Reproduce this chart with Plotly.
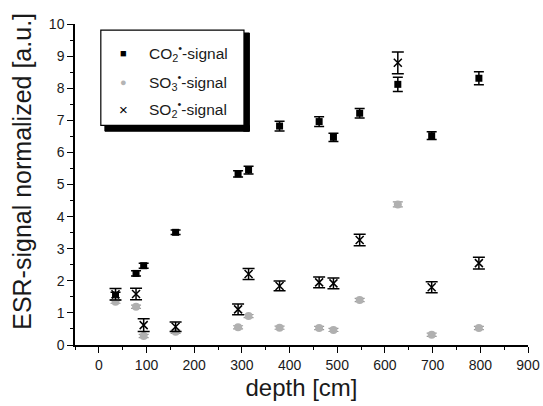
import plotly.graph_objects as go

depth = [35, 78, 94, 161, 292, 314, 379, 462, 492, 547, 627, 698, 797]
co2 = [1.52, 2.23, 2.47, 3.51, 5.33, 5.45, 6.82, 6.96, 6.47, 7.22, 8.12, 6.52, 8.31]
co2_err = [0.12, 0.08, 0.08, 0.07, 0.1, 0.12, 0.15, 0.15, 0.13, 0.15, 0.22, 0.12, 0.2]
so3 = [1.35, 1.19, 0.28, 0.41, 0.55, 0.90, 0.54, 0.53, 0.47, 1.40, 4.38, 0.32, 0.53]
so3_err = [0.05, 0.05, 0.05, 0.05, 0.05, 0.05, 0.05, 0.05, 0.05, 0.05, 0.08, 0.05, 0.05]
so2 = [1.58, 1.59, 0.62, 0.57, 1.11, 2.21, 1.84, 1.95, 1.92, 3.27, 8.79, 1.80, 2.55]
so2_err = [0.18, 0.18, 0.2, 0.15, 0.17, 0.17, 0.15, 0.17, 0.17, 0.18, 0.34, 0.17, 0.18]

names = ["CO<sub>2</sub><sup>•</sup>-signal", "SO<sub>3</sub><sup>•</sup>-signal", "SO<sub>2</sub><sup>•</sup>-signal"]
legend_symbols = ["■", "●", "×"]
legend_colors = ["black", "#b4b4b4", "black"]
legend_sym_sizes = [11, 11, 15]

TXT = "#1a1a1a"

fig = go.Figure()
fig.add_trace(go.Scatter(
    x=depth, y=co2, mode="markers", name=names[0],
    marker=dict(symbol="square", size=7, color="black"),
    error_y=dict(type="data", array=co2_err, color="black", thickness=1.5, width=5),
))
fig.add_trace(go.Scatter(
    x=depth, y=so3, mode="markers", name=names[1],
    marker=dict(symbol="circle", size=8, color="#b0b0b0"),
    error_y=dict(type="data", array=so3_err, color="#999999", thickness=1.2, width=5),
))
fig.add_trace(go.Scatter(
    x=depth, y=so2, mode="markers", name=names[2],
    marker=dict(symbol="x-thin-open", size=8, color="black", line=dict(width=1.5, color="black")),
    error_y=dict(type="data", array=so2_err, color="black", thickness=1.5, width=6),
))

# legend drop shadow: right strip and bottom strip (paper coordinates)
fig.add_shape(type="rect", xref="paper", yref="paper",
              x0=0.372, x1=0.385, y0=0.666, y1=0.972,
              fillcolor="black", line=dict(color="black", width=1), layer="above")
fig.add_shape(type="rect", xref="paper", yref="paper",
              x0=0.066, x1=0.385, y0=0.666, y1=0.684,
              fillcolor="black", line=dict(color="black", width=1), layer="above")
# legend box
fig.add_shape(type="rect", xref="paper", yref="paper",
              x0=0.057, x1=0.373, y0=0.684, y1=0.981,
              fillcolor="white", line=dict(width=1.2, color="black"), layer="above")

row_y = [0.909, 0.820, 0.734]
for i in range(3):
    fig.add_annotation(xref="paper", yref="paper", x=0.106, y=row_y[i],
                       text=legend_symbols[i], showarrow=False, xanchor="center", yanchor="middle",
                       font=dict(size=legend_sym_sizes[i], color=legend_colors[i]))
    fig.add_annotation(xref="paper", yref="paper", x=0.160, y=row_y[i],
                       text=names[i], showarrow=False, xanchor="left", yanchor="middle",
                       font=dict(size=15.5, color=TXT))

# y-axis title (offset upward as in the reference)
fig.add_annotation(xref="paper", yref="paper", x=-0.116, y=0.541,
                   text="ESR-signal normalized [a.u.]", textangle=-90, showarrow=False,
                   xanchor="center", yanchor="middle", font=dict(size=25, color=TXT))

fig.update_layout(
    width=543, height=406,
    margin=dict(l=75, r=15, t=24, b=61),
    paper_bgcolor="white", plot_bgcolor="white",
    font=dict(family="Liberation Sans, Arial, sans-serif", color=TXT),
    showlegend=False,
    xaxis=dict(range=[-50, 900], tickvals=[0, 100, 200, 300, 400, 500, 600, 700, 800, 900],
               ticks="outside", ticklen=6, tickwidth=1, tickcolor="black",
               minor=dict(dtick=50, tick0=0, ticks="outside", ticklen=3, tickcolor="black"),
               showline=True, linecolor="black", linewidth=1.5, showgrid=False, zeroline=False,
               tickfont=dict(size=14), automargin=False,
               title=dict(text="depth [cm]", font=dict(size=24), standoff=8)),
    yaxis=dict(range=[0, 10], tickvals=list(range(0, 11)),
               ticks="outside", ticklen=6, tickwidth=1, tickcolor="black",
               minor=dict(dtick=0.5, tick0=0, ticks="outside", ticklen=3, tickcolor="black"),
               showline=True, linecolor="black", linewidth=1.5, showgrid=False, zeroline=False,
               tickfont=dict(size=14), automargin=False),
)

fig.write_html("out.html")
